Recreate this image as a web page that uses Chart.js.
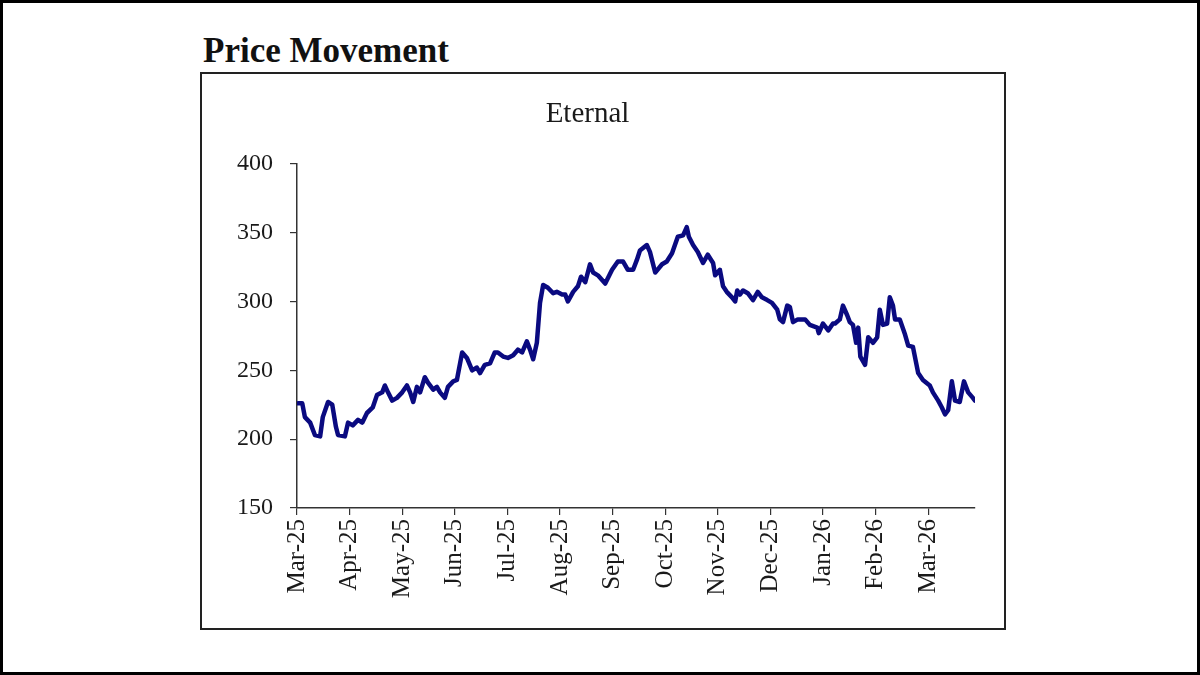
<!DOCTYPE html>
<html lang="en">
<head>
    <meta charset="UTF-8">
    <title>Price Movement - Eternal</title>
    <script src="https://cdn.jsdelivr.net/npm/chart.js"></script>
    <style>
        html, body { margin: 0; padding: 0; background: #fff; }
        .page {
            position: relative;
            width: 1200px;
            height: 675px;
            box-sizing: border-box;
            border: 3px solid #000;
            font-family: "Liberation Serif", "DejaVu Serif", serif;
        }
        .heading {
            position: absolute;
            left: 200px;
            top: 28px;
            font-size: 35px;
            font-weight: bold;
            color: #111;
        }
        .frame {
            position: absolute;
            left: 197px;
            top: 69px;
            width: 806px;
            height: 558px;
            box-sizing: border-box;
            border: 2px solid #222;
        }
        canvas { position: absolute; left: -3px; top: -3px; }
    </style>
</head>
<body>
<div class="page">
    <div class="heading">Price Movement</div>
    <div class="frame"></div>
    <canvas id="priceChart" width="1200" height="675"></canvas>
</div>

<script>
    // month ticks, one per month starting Mar-25
    const monthLabels = ['Mar-25', 'Apr-25', 'May-25', 'Jun-25', 'Jul-25', 'Aug-25', 'Sep-25',
        'Oct-25', 'Nov-25', 'Dec-25', 'Jan-26', 'Feb-26', 'Mar-26'];

    // position in months since 1 Mar 2025
    const monthPos = [
        0.02, 0.10, 0.15, 0.25, 0.34, 0.44, 0.49, 0.59, 0.67, 0.74, 0.78, 0.91, 0.97,
        1.06, 1.16, 1.24, 1.33, 1.44, 1.52, 1.62, 1.67, 1.73, 1.81, 1.90,
        2.00, 2.09, 2.15, 2.21, 2.28, 2.34, 2.43, 2.49, 2.59, 2.66, 2.72, 2.81, 2.87, 2.97,
        3.04, 3.14, 3.23, 3.33, 3.42, 3.48, 3.57, 3.67, 3.76, 3.82, 3.92,
        4.01, 4.11, 4.20, 4.28, 4.37, 4.43, 4.49, 4.56, 4.62, 4.68, 4.77, 4.87, 4.94,
        5.04, 5.10, 5.15, 5.25, 5.34, 5.40, 5.48, 5.57, 5.63, 5.72, 5.86, 5.99,
        6.10, 6.20, 6.29, 6.39, 6.46, 6.52, 6.65, 6.71, 6.81, 6.94,
        7.03, 7.13, 7.24, 7.34, 7.41, 7.45, 7.53, 7.62, 7.72, 7.81, 7.91, 7.95,
        8.04, 8.10, 8.17, 8.27, 8.33, 8.37, 8.42, 8.48, 8.57, 8.67, 8.76, 8.84, 8.94,
        9.03, 9.13, 9.18, 9.24, 9.32, 9.37, 9.43, 9.52, 9.66, 9.75, 9.89, 9.92,
        10.00, 10.10, 10.19, 10.23, 10.32, 10.38, 10.46, 10.51, 10.57, 10.63, 10.67, 10.71, 10.80, 10.86, 10.95,
        11.03, 11.08, 11.14, 11.22, 11.27, 11.33, 11.37, 11.46, 11.56, 11.62, 11.71, 11.81, 11.90,
        12.03, 12.09, 12.19, 12.26, 12.32, 12.38, 12.45, 12.51, 12.60, 12.68, 12.76, 12.85, 12.89
    ];

    const price = [
        226, 226, 216, 212, 203, 202, 216, 227, 225, 209, 203, 202, 212,
        210, 214, 212, 219, 223, 232, 234, 239, 234, 228, 230,
        234, 239, 234, 227, 238, 234, 245, 241, 236, 238, 234, 230, 238, 242,
        243, 263, 259, 250, 252, 248, 254, 255, 263, 263, 260,
        259, 261, 265, 263, 271, 265, 258, 270, 299, 312, 310, 306, 307,
        305, 305, 300, 307, 311, 318, 314, 327, 321, 319, 313, 323,
        329, 329, 323, 323, 330, 337, 341, 336, 321, 327,
        329, 335, 347, 348, 354, 347, 341, 336, 328, 334, 328, 319,
        323, 311, 307, 303, 300, 308, 305, 308, 306, 301, 307, 303, 301,
        299, 294, 287, 285, 297, 296, 285, 287, 287, 283, 281, 277,
        284, 279, 284, 284, 287, 297, 290, 285, 283, 270, 281, 260, 254, 274, 270,
        274, 294, 283, 284, 303, 297, 287, 287, 276, 268, 267, 248, 243,
        239, 234, 228, 223, 218, 221, 242, 228, 227, 242, 234, 230, 228
    ];

    const yTicks = { min: 150, max: 400, step: 50 };

    const points = monthPos.map((m, i) => ({ x: m, y: price[i] }));

    const serif = '"Liberation Serif", "DejaVu Serif", serif';

    new Chart(document.getElementById('priceChart'), {
        type: 'line',
        data: {
            datasets: [{
                label: 'Eternal',
                data: points,
                borderColor: '#0a0a80',
                borderWidth: 4.5,
                pointRadius: 0,
                tension: 0,
                borderJoinStyle: 'round',
                borderCapStyle: 'round',
                fill: false
            }]
        },
        options: {
            responsive: false,
            animation: false,
            layout: {
                padding: { left: 200, right: 225, top: 97, bottom: 55 }
            },
            plugins: {
                legend: { display: false },
                tooltip: { enabled: false },
                title: {
                    display: true,
                    text: 'Eternal',
                    color: '#1a1a1a',
                    font: { family: serif, size: 29, weight: 'normal' },
                    padding: { top: 0, bottom: 32 }
                }
            },
            scales: {
                x: {
                    type: 'linear',
                    min: 0,
                    max: 12.89,
                    afterFit: (scale) => { scale.height = 112; },
                    grid: { drawOnChartArea: false, drawTicks: true, tickLength: 7, color: '#333', lineWidth: 1.2 },
                    border: { display: true, color: '#333', width: 1.5 },
                    ticks: {
                        stepSize: 1,
                        includeBounds: false,
                        autoSkip: false,
                        maxRotation: 90,
                        minRotation: 90,
                        padding: 4,
                        color: '#1a1a1a',
                        font: { family: serif, size: 25 },
                        callback: (v) => monthLabels[v]
                    }
                },
                y: {
                    min: yTicks.min,
                    max: yTicks.max,
                    afterFit: (scale) => { scale.width = 97; },
                    grid: { drawOnChartArea: false, drawTicks: true, tickLength: 7, color: '#333', lineWidth: 1.2 },
                    border: { display: true, color: '#333', width: 1.5 },
                    ticks: {
                        stepSize: yTicks.step,
                        padding: 17,
                        color: '#1a1a1a',
                        font: { family: serif, size: 24 }
                    }
                }
            }
        }
    });
</script>
</body>
</html>
